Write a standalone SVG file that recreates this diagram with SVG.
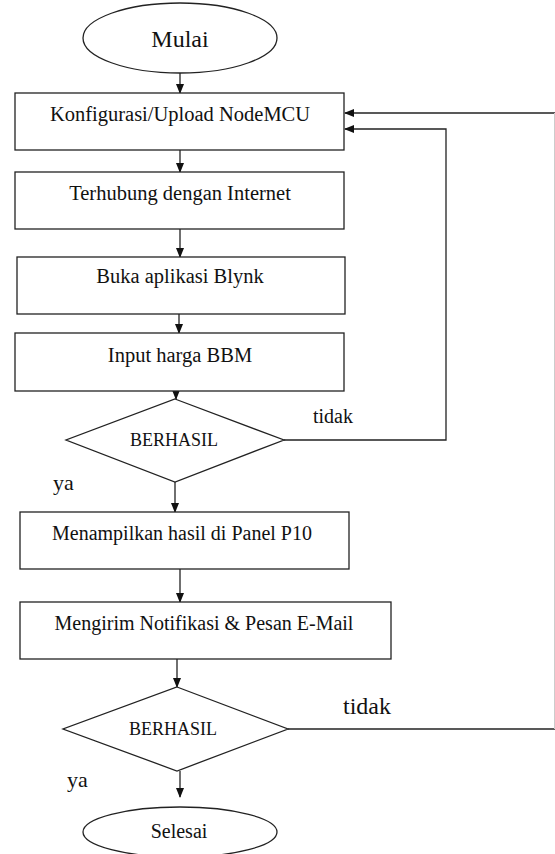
<svg xmlns="http://www.w3.org/2000/svg" width="555" height="854" viewBox="0 0 555 854">
<style>
.s{fill:#fff;stroke:#222;stroke-width:1.3}
.t{fill:#111;text-anchor:middle}
.c{fill:none;stroke:#222;stroke-width:1.3}
.l{fill:#111}
text{font-family:'Liberation Serif','DejaVu Serif',serif}
</style>
<defs>
<marker id="a" markerWidth="10" markerHeight="10" refX="9" refY="5" orient="auto" markerUnits="userSpaceOnUse">
<path d="M0,1 L10,5 L0,9 Z" fill="#111"/>
</marker>
</defs>
<rect width="555" height="854" fill="#fff"/>
<g id="connectors">
<line class="c" x1="180" y1="73" x2="180" y2="93" marker-end="url(#a)"/>
<line class="c" x1="180" y1="150" x2="180" y2="172" marker-end="url(#a)"/>
<line class="c" x1="180" y1="229" x2="180" y2="257" marker-end="url(#a)"/>
<line class="c" x1="179" y1="314" x2="179" y2="333" marker-end="url(#a)"/>
<line class="c" x1="176" y1="391" x2="176" y2="399" marker-end="url(#a)"/>
<line class="c" x1="175" y1="482" x2="175" y2="512" marker-end="url(#a)"/>
<line class="c" x1="180" y1="569" x2="180" y2="602" marker-end="url(#a)"/>
<line class="c" x1="177" y1="659" x2="177" y2="687" marker-end="url(#a)"/>
<line class="c" x1="180" y1="771" x2="180" y2="797" marker-end="url(#a)"/>
<polyline class="c" points="284,440 446,440 446,129 345,129" marker-end="url(#a)"/>
<line class="c" x1="555" y1="113" x2="345" y2="113" marker-end="url(#a)"/>
<line class="c" x1="288" y1="729" x2="555" y2="729"/>
<line x1="554.5" y1="113" x2="554.5" y2="729" stroke="#ccc" stroke-width="1"/>
<text class="l" x="313" y="423" font-size="20" font-family="Liberation Serif, serif">tidak</text>
<text class="l" x="53" y="490" font-size="22" font-family="Liberation Serif, serif">ya</text>
<text class="l" x="343" y="714" font-size="24" font-family="Liberation Serif, serif">tidak</text>
<text class="l" x="67" y="787" font-size="22" font-family="Liberation Serif, serif">ya</text>
</g>
<g id="mulai">
<ellipse class="s" cx="180" cy="38" rx="97" ry="35"/>
<text class="t" x="180" y="47" font-size="24" font-family="Liberation Serif, serif">Mulai</text>
</g>
<g id="konfigurasi">
<rect class="s" x="15" y="93" width="329" height="57"/>
<text class="t" x="180" y="121" font-size="20.5" font-family="Liberation Serif, serif">Konfigurasi/Upload NodeMCU</text>
</g>
<g id="terhubung">
<rect class="s" x="15" y="172" width="329" height="57"/>
<text class="t" x="180" y="200" font-size="20.5" font-family="Liberation Serif, serif">Terhubung dengan Internet</text>
</g>
<g id="blynk">
<rect class="s" x="17" y="257" width="328" height="57"/>
<text class="t" x="180" y="283" font-size="20.5" font-family="Liberation Serif, serif">Buka aplikasi Blynk</text>
</g>
<g id="input">
<rect class="s" x="15" y="333" width="329" height="58"/>
<text class="t" x="180" y="362" font-size="20.5" font-family="Liberation Serif, serif">Input harga BBM</text>
</g>
<g id="berhasil1">
<polygon class="s" points="175,399 284,440 175,482 66,440"/>
<text class="t" x="174" y="446" font-size="18" font-family="Liberation Serif, serif">BERHASIL</text>
</g>
<g id="menampilkan">
<rect class="s" x="20" y="512" width="329" height="57"/>
<text class="t" x="182" y="540" font-size="20" font-family="Liberation Serif, serif">Menampilkan hasil di Panel P10</text>
</g>
<g id="mengirim">
<rect class="s" x="20" y="602" width="371" height="57"/>
<text class="t" x="204" y="630" font-size="20" font-family="Liberation Serif, serif">Mengirim Notifikasi &amp; Pesan E-Mail</text>
</g>
<g id="berhasil2">
<polygon class="s" points="177,687 288,729 177,771 63,729"/>
<text class="t" x="173" y="735" font-size="18" font-family="Liberation Serif, serif">BERHASIL</text>
</g>
<g id="selesai">
<ellipse class="s" cx="180" cy="832" rx="97" ry="25"/>
<text class="t" x="179" y="838" font-size="20" font-family="Liberation Serif, serif">Selesai</text>
</g>
</svg>
